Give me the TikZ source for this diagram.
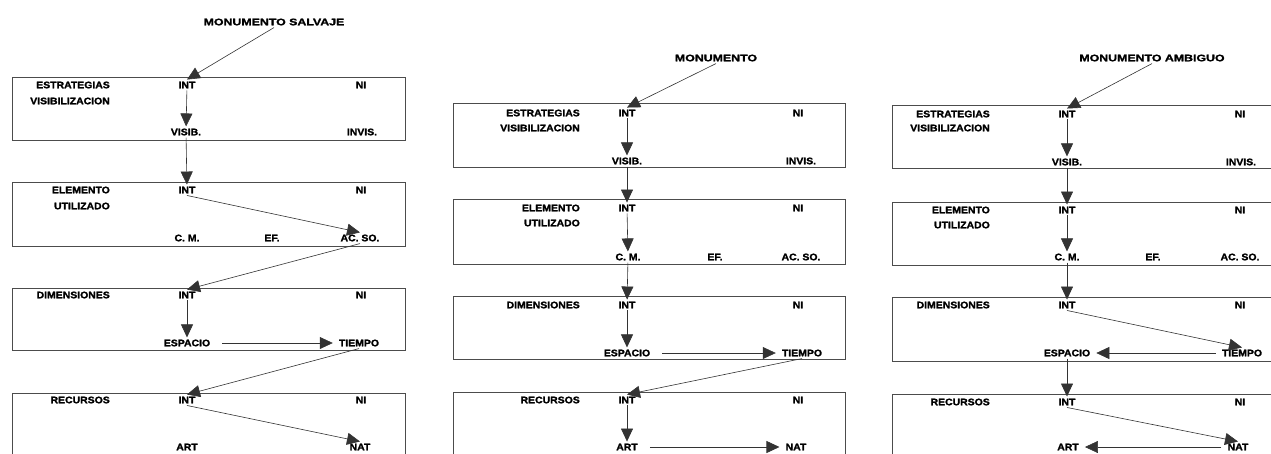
\documentclass[tikz,border=0pt]{standalone}
\usepackage{fontspec}
\setmainfont{Liberation Sans}[FakeStretch=1.1, BoldFeatures={FakeBold=1.6}]
\newfontfamily\titlefont{Liberation Sans}[FakeStretch=1.3, BoldFeatures={FakeBold=1.6}]
\usetikzlibrary{arrows.meta}

\begin{document}
\begin{tikzpicture}[x=1pt, y=-1pt,
            lbl/.style={font=\bfseries\fontsize{9.5}{11}\selectfont, inner sep=2pt},
            cat/.style={lbl, anchor=east},
            ttl/.style={font=\titlefont\bfseries\fontsize{9.5}{11}\selectfont, inner sep=2pt},
            panel/.style={draw=black!70, line width=0.7pt},
            flow/.style={draw=black!80, line width=0.6pt, -{Triangle[length=13pt,width=12pt]}}
        ]
            \useasboundingbox (0,0) rectangle (1271,453);
            \clip (0,0) rectangle (1271,453);

            \draw[panel] (12,77) rectangle (405,140);
            \draw[panel] (12,182) rectangle (405,246);
            \draw[panel] (12,288) rectangle (405,350);
            \draw[panel] (12,393) rectangle (405,470);

            \node[ttl] (s-title) at (274,22) {MONUMENTO SALVAJE};
            \node[cat] (s-est) at (112,85) {ESTRATEGIAS};
            \node[cat] (s-vis) at (112,101) {VISIBILIZACION};
            \node[lbl] (s-int1) at (187,85) {INT};
            \node[lbl] (s-ni1) at (361,85) {NI};
            \node[lbl] (s-visib) at (186,132) {VISIB.};
            \node[lbl] (s-invis) at (362,132) {INVIS.};
            \node[cat] (s-ele) at (112,190) {ELEMENTO};
            \node[cat] (s-uti) at (112,206) {UTILIZADO};
            \node[lbl] (s-int2) at (187,190) {INT};
            \node[lbl] (s-ni2) at (361,190) {NI};
            \node[lbl] (s-cm) at (187,238) {C. M.};
            \node[lbl] (s-ef) at (272,238) {EF.};
            \node[lbl] (s-acso) at (360,238) {AC. SO.};
            \node[cat] (s-dim) at (112,295) {DIMENSIONES};
            \node[lbl] (s-int3) at (187,295) {INT};
            \node[lbl] (s-ni3) at (361,295) {NI};
            \node[lbl] (s-esp) at (187,343) {ESPACIO};
            \node[lbl] (s-tie) at (359,343) {TIEMPO};
            \node[cat] (s-rec) at (112,400) {RECURSOS};
            \node[lbl] (s-int4) at (187,400) {INT};
            \node[lbl] (s-ni4) at (361,400) {NI};
            \node[lbl] (s-art) at (187,447) {ART};
            \node[lbl] (s-nat) at (360,447) {NAT};

            \draw[flow] (s-title.south) -- (s-int1.north);
            \draw[flow] (s-int1) -- (s-visib);
            \draw[flow] (s-visib) -- (s-int2);
            \draw[flow] (s-int2.south) -- (s-acso.north);
            \draw[flow] (s-acso.south) -- (s-int3.north);
            \draw[flow] (s-int3) -- (s-esp);
            \draw[flow, shorten <=10pt, shorten >=4pt] (s-esp) -- (s-tie);
            \draw[flow] (s-tie.south) -- (s-int4.north);
            \draw[flow] (s-int4.south) -- (s-nat.north);

            \draw[panel] (453,103) rectangle (845,167);
            \draw[panel] (453,199) rectangle (845,264);
            \draw[panel] (453,296) rectangle (845,359);
            \draw[panel] (453,392) rectangle (845,470);

            \node[ttl] (m-title) at (716,58) {MONUMENTO};
            \node[cat] (m-est) at (582,113) {ESTRATEGIAS};
            \node[cat] (m-vis) at (582,128) {VISIBILIZACION};
            \node[lbl] (m-int1) at (627,113) {INT};
            \node[lbl] (m-ni1) at (798,113) {NI};
            \node[lbl] (m-visib) at (627,161) {VISIB.};
            \node[lbl] (m-invis) at (801,161) {INVIS.};
            \node[cat] (m-ele) at (582,208) {ELEMENTO};
            \node[cat] (m-uti) at (582,223) {UTILIZADO};
            \node[lbl] (m-int2) at (627,208) {INT};
            \node[lbl] (m-ni2) at (798,208) {NI};
            \node[lbl] (m-cm) at (628,257) {C. M.};
            \node[lbl] (m-ef) at (715,257) {EF.};
            \node[lbl] (m-acso) at (801,257) {AC. SO.};
            \node[cat] (m-dim) at (582,305) {DIMENSIONES};
            \node[lbl] (m-int3) at (627,305) {INT};
            \node[lbl] (m-ni3) at (798,305) {NI};
            \node[lbl] (m-esp) at (627,353) {ESPACIO};
            \node[lbl] (m-tie) at (802,353) {TIEMPO};
            \node[cat] (m-rec) at (582,400) {RECURSOS};
            \node[lbl] (m-int4) at (627,400) {INT};
            \node[lbl] (m-ni4) at (798,400) {NI};
            \node[lbl] (m-art) at (627,447) {ART};
            \node[lbl] (m-nat) at (796,447) {NAT};

            \draw[flow] (m-title.south) -- (m-int1.north);
            \draw[flow] (m-int1) -- (m-visib);
            \draw[flow] (m-visib) -- (m-int2);
            \draw[flow] (m-int2) -- (m-cm);
            \draw[flow] (m-cm) -- (m-int3);
            \draw[flow] (m-int3) -- (m-esp);
            \draw[flow, shorten <=10pt, shorten >=4pt] (m-esp) -- (m-tie);
            \draw[flow] (m-tie.south) -- (m-int4.north);
            \draw[flow] (m-int4) -- (m-art);
            \draw[flow, shorten <=10pt, shorten >=4pt] (m-art) -- (m-nat);

            \draw[panel] (892,105) rectangle (1290,168);
            \draw[panel] (892,202) rectangle (1290,265);
            \draw[panel] (892,297) rectangle (1290,361);
            \draw[panel] (892,394) rectangle (1290,470);

            \node[ttl] (a-title) at (1152,58) {MONUMENTO AMBIGUO};
            \node[cat] (a-est) at (992,114) {ESTRATEGIAS};
            \node[cat] (a-vis) at (992,128) {VISIBILIZACION};
            \node[lbl] (a-int1) at (1067,114) {INT};
            \node[lbl] (a-ni1) at (1240,114) {NI};
            \node[lbl] (a-visib) at (1067,162) {VISIB.};
            \node[lbl] (a-invis) at (1241,162) {INVIS.};
            \node[cat] (a-ele) at (992,210) {ELEMENTO};
            \node[cat] (a-uti) at (992,225) {UTILIZADO};
            \node[lbl] (a-int2) at (1067,210) {INT};
            \node[lbl] (a-ni2) at (1240,210) {NI};
            \node[lbl] (a-cm) at (1067,257) {C. M.};
            \node[lbl] (a-ef) at (1153,257) {EF.};
            \node[lbl] (a-acso) at (1240,257) {AC. SO.};
            \node[cat] (a-dim) at (992,305) {DIMENSIONES};
            \node[lbl] (a-int3) at (1067,305) {INT};
            \node[lbl] (a-ni3) at (1240,305) {NI};
            \node[lbl] (a-esp) at (1067,353) {ESPACIO};
            \node[lbl] (a-tie) at (1242,353) {TIEMPO};
            \node[cat] (a-rec) at (992,402) {RECURSOS};
            \node[lbl] (a-int4) at (1067,402) {INT};
            \node[lbl] (a-ni4) at (1240,402) {NI};
            \node[lbl] (a-art) at (1068,447) {ART};
            \node[lbl] (a-nat) at (1238,447) {NAT};

            \draw[flow] (a-title.south) -- (a-int1.north);
            \draw[flow] (a-int1) -- (a-visib);
            \draw[flow] (a-visib) -- (a-int2);
            \draw[flow] (a-int2) -- (a-cm);
            \draw[flow] (a-cm) -- (a-int3);
            \draw[flow] (a-int3.south) -- (a-tie.north);
            \draw[flow, shorten <=4pt, shorten >=4pt] (a-tie) -- (a-esp);
            \draw[flow] (a-esp) -- (a-int4);
            \draw[flow] (a-int4.south) -- (a-nat.north);
            \draw[flow, shorten <=4pt, shorten >=4pt] (a-nat) -- (a-art);

        \end{tikzpicture}
\end{document}
